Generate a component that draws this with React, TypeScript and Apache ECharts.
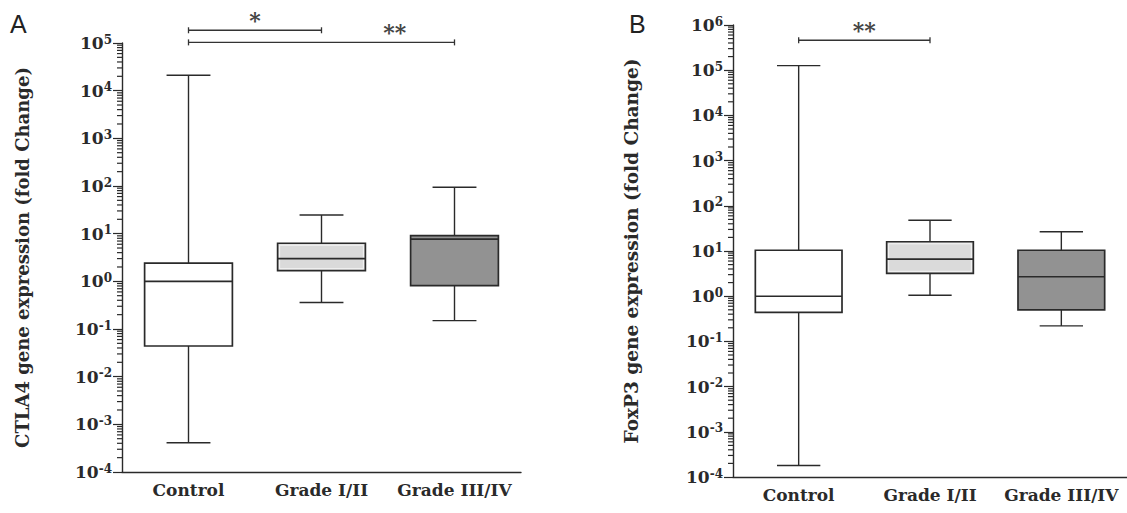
import React, { useEffect, useRef } from 'react';
import * as echarts from 'echarts';

const categories = ['Control', 'Grade I/II', 'Grade III/IV'];

// Panel A: CTLA4 fold change (box-and-whisker summary per group)
const ctla4Min = [4.1e-4, 0.36, 0.15];
const ctla4Q1 = [0.044, 1.67, 0.81];
const ctla4Median = [1.0, 3.0, 7.7];
const ctla4Q3 = [2.4, 6.3, 9.1];
const ctla4Max = [2.1e4, 24.6, 94];

// Panel B: FoxP3 fold change
const foxp3Min = [1.8e-4, 1.05, 0.22];
const foxp3Q1 = [0.44, 3.2, 0.5];
const foxp3Median = [1.0, 6.6, 2.7];
const foxp3Q3 = [10.4, 16, 10.4];
const foxp3Max = [1.26e5, 48, 26.6];

// significance brackets (category index from / to, level on y, label position along the bracket)
const sigAFrom = [0, 0];
const sigATo = [1, 2];
const sigALevel = [1.85e5, 1.03e5];
const sigAText = ['*', '**'];
const sigATextAt = [0.5, 1.55];

const sigBFrom = [0];
const sigBTo = [1];
const sigBLevel = [4.6e5];
const sigBText = ['**'];
const sigBTextAt = [0.5];

// axis ranges (decades)
const aMinExp = -4;
const aMaxExp = 5;
const bMinExp = -4;
const bMaxExp = 6;
const minorMultipliers = [2, 3, 4, 5, 6, 7, 8, 9];

const SERIF = '"DejaVu Serif", "Liberation Serif", serif';
const INK = '#2a2a2a';
const fills = ['#ffffff', '#dadada', '#929292'];

function minorTicks(lo: number, hi: number) {
  const out: number[] = [];
  for (let e = lo; e < hi; e++) {
    for (const m of minorMultipliers) out.push(m * Math.pow(10, e));
  }
  return out;
}
const minorA = minorTicks(aMinExp, aMaxExp);
const minorB = minorTicks(bMinExp, bMaxExp);

function boxRender(minor: number[]) {
  return (params: any, api: any) => {
    const i = api.value(0);
    const bw = api.size([1, 1], [i, 1])[0];
    const cx = api.coord([i, api.value(3)])[0];
    const y = (k: number) => api.coord([i, api.value(k)])[1];
    const yMin = y(1), yQ1 = y(2), yMed = y(3), yQ3 = y(4), yMax = y(5);
    const hb = bw * 0.33;
    const hc = hb / 2;
    const ls = { stroke: INK, lineWidth: 1.4 };
    const children: any[] = [
      { type: 'line', shape: { x1: cx, y1: yMax, x2: cx, y2: yQ3 }, style: ls },
      { type: 'line', shape: { x1: cx, y1: yQ1, x2: cx, y2: yMin }, style: ls },
      { type: 'line', shape: { x1: cx - hc, y1: yMax, x2: cx + hc, y2: yMax }, style: ls },
      { type: 'line', shape: { x1: cx - hc, y1: yMin, x2: cx + hc, y2: yMin }, style: ls },
      {
        type: 'rect',
        shape: { x: cx - hb, y: yQ3, width: 2 * hb, height: yQ1 - yQ3 },
        style: { fill: fills[i], stroke: INK, lineWidth: 1.7 },
      },
    ];
    if (i === 1) {
      children.push({
        type: 'rect',
        shape: { x: cx - hb + 2, y: yQ3 + 2, width: 2 * hb - 4, height: yQ1 - yQ3 - 4 },
        style: { fill: 'none', stroke: '#f4f4f4', lineWidth: 1 },
      });
    }
    children.push({ type: 'line', shape: { x1: cx - hb, y1: yMed, x2: cx + hb, y2: yMed }, style: { stroke: INK, lineWidth: 1.6 } });
    if (i === 0) {
      // minor (2..9 × 10^k) ticks along the left y axis
      const x0 = cx - bw / 2;
      for (const v of minor) {
        const py = api.coord([0, v])[1];
        children.push({ type: 'line', shape: { x1: x0 - 5, y1: py, x2: x0, y2: py }, style: { stroke: INK, lineWidth: 1.2 } });
      }
    }
    return { type: 'group', children };
  };
}

function sigRender(texts: string[]) {
  return (params: any, api: any) => {
    const from = api.value(0);
    const to = api.value(1);
    const a = api.coord([from, api.value(2)]);
    const b = api.coord([to, api.value(2)]);
    const frac = (api.value(3) - from) / (to - from);
    const tx = a[0] + (b[0] - a[0]) * frac;
    const ls = { stroke: '#333', lineWidth: 1.3 };
    return {
      type: 'group',
      children: [
        { type: 'line', shape: { x1: a[0], y1: a[1], x2: b[0], y2: b[1] }, style: ls },
        { type: 'line', shape: { x1: a[0], y1: a[1] - 3, x2: a[0], y2: a[1] + 3 }, style: ls },
        { type: 'line', shape: { x1: b[0], y1: b[1] - 3, x2: b[0], y2: b[1] + 3 }, style: ls },
        {
          type: 'text',
          x: tx,
          y: a[1] + 1,
          style: {
            text: texts[params.dataIndex],
            fill: '#444',
            fontSize: 22,
            fontFamily: SERIF,
            fontWeight: 'bold',
            align: 'center',
            verticalAlign: 'bottom',
          },
        },
      ],
    };
  };
}

function xAxis(gridIndex: number) {
  return {
    type: 'category',
    gridIndex,
    data: categories,
    boundaryGap: true,
    axisLine: { lineStyle: { color: INK, width: 1.4 } },
    axisTick: { alignWithLabel: true, length: 6, lineStyle: { color: INK, width: 1.4 } },
    axisLabel: { interval: 0, hideOverlap: false, fontFamily: SERIF, fontWeight: 'bold', fontSize: 17, color: INK, margin: 9 },
    splitLine: { show: false },
  };
}

function yAxis(gridIndex: number, lo: number, hi: number, name: string, nameGap: number, nameSize: number) {
  return {
    type: 'log',
    logBase: 10,
    gridIndex,
    min: Math.pow(10, lo),
    max: Math.pow(10, hi),
    splitNumber: hi - lo,
    name,
    nameLocation: 'middle',
    nameRotate: 90,
    nameGap,
    nameTextStyle: { fontFamily: SERIF, fontWeight: 'bold', fontSize: nameSize, color: INK },
    axisLine: { show: true, lineStyle: { color: INK, width: 1.4 } },
    axisTick: { show: true, length: 9, lineStyle: { color: INK, width: 1.2 } },
    splitLine: { show: false },
    axisLabel: {
      margin: 10,
      color: INK,
      formatter: (v: number) => `{b|10}{s|${Math.round(Math.log10(v))}}`,
      rich: {
        b: { fontFamily: SERIF, fontWeight: 'bold', fontSize: 17, lineHeight: 19, color: INK },
        s: { fontFamily: SERIF, fontWeight: 'bold', fontSize: 12, verticalAlign: 'top', color: INK },
      },
    },
  };
}

function boxData(mn: number[], q1: number[], md: number[], q3: number[], mx: number[]) {
  return categories.map((_, i) => [i, mn[i], q1[i], md[i], q3[i], mx[i]]);
}

function sigData(from: number[], to: number[], lvl: number[], at: number[]) {
  return from.map((f, i) => [f, to[i], lvl[i], at[i]]);
}

export default function App() {
  const ref = useRef<HTMLDivElement>(null);
  useEffect(() => {
    const chart = echarts.init(ref.current!, null, { renderer: 'svg' });
    chart.setOption({
      animation: false,
      backgroundColor: '#ffffff',
      grid: [
        { left: 122, top: 43, width: 399, height: 429 },
        { left: 733, top: 25, width: 394, height: 452 },
      ],
      xAxis: [xAxis(0), xAxis(1)],
      yAxis: [
        yAxis(0, aMinExp, aMaxExp, 'CTLA4 gene expression (fold Change)', 91, 18),
        yAxis(1, bMinExp, bMaxExp, 'FoxP3 gene expression (fold Change)', 92, 18.5),
      ],
      graphic: [
        { type: 'text', left: 10, top: 11, style: { text: 'A', fontSize: 25, fontFamily: '"Liberation Sans", Arial, sans-serif', fill: '#222' } },
        { type: 'text', left: 629, top: 11, style: { text: 'B', fontSize: 25, fontFamily: '"Liberation Sans", Arial, sans-serif', fill: '#222' } },
      ],
      series: [
        {
          type: 'custom', name: 'CTLA4', xAxisIndex: 0, yAxisIndex: 0, renderItem: boxRender(minorA), clip: false,
          data: boxData(ctla4Min, ctla4Q1, ctla4Median, ctla4Q3, ctla4Max), encode: { x: 0, y: [1, 2, 3, 4, 5] },
        },
        {
          type: 'custom', name: 'FoxP3', xAxisIndex: 1, yAxisIndex: 1, renderItem: boxRender(minorB), clip: false,
          data: boxData(foxp3Min, foxp3Q1, foxp3Median, foxp3Q3, foxp3Max), encode: { x: 0, y: [1, 2, 3, 4, 5] },
        },
        {
          type: 'custom', xAxisIndex: 0, yAxisIndex: 0, renderItem: sigRender(sigAText), clip: false,
          data: sigData(sigAFrom, sigATo, sigALevel, sigATextAt), encode: { x: [0, 1], y: 2 },
        },
        {
          type: 'custom', xAxisIndex: 1, yAxisIndex: 1, renderItem: sigRender(sigBText), clip: false,
          data: sigData(sigBFrom, sigBTo, sigBLevel, sigBTextAt), encode: { x: [0, 1], y: 2 },
        },
      ],
    });
    return () => chart.dispose();
  }, []);
  return (
    <div
      ref={ref}
      style={{ position: 'absolute', left: 0, top: 0, width: 1127, height: 513, background: '#fff' }}
    />
  );
}
